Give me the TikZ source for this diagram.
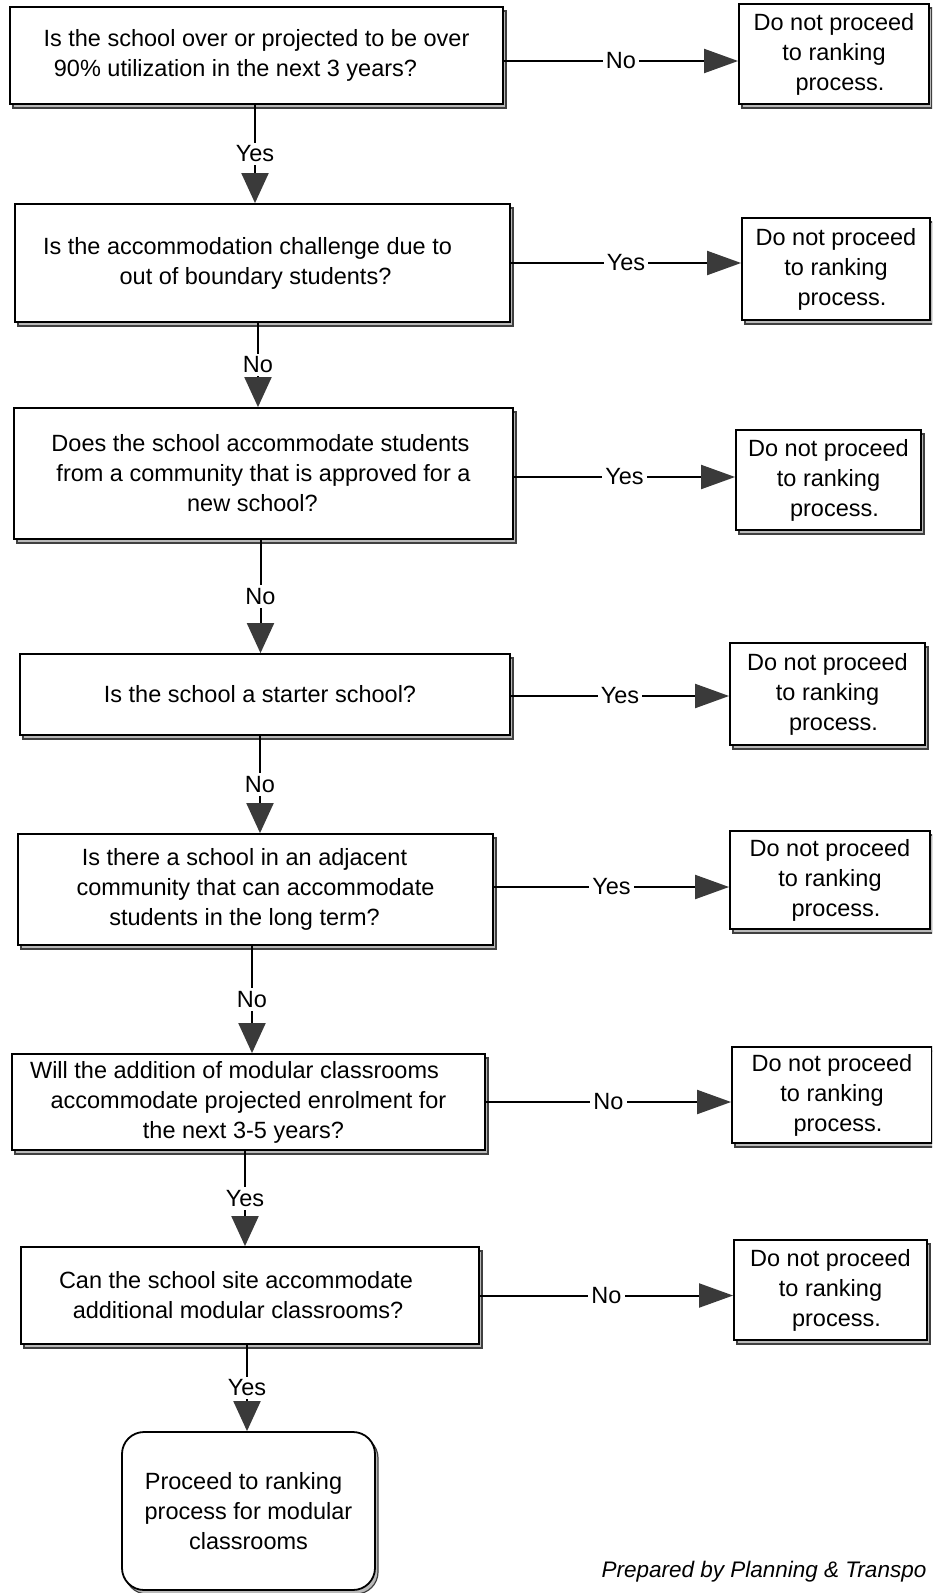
\documentclass[tikz,border=0pt]{standalone}
\usepackage{fontspec}
\setmainfont{Liberation Sans}
\usetikzlibrary{arrows.meta,shadows}
\definecolor{tipgray}{HTML}{3A3A3A}
\newcommand\sh[1]{\hspace*{#1pt}}
\begin{document}
\begin{tikzpicture}[x=1pt,y=-1pt,
  every node/.style={font=\fontsize{23.5}{30}\selectfont},
  box/.style={draw=black, line width=1.8pt, fill=white, inner sep=0pt, align=center,
    drop shadow={shadow xshift=3pt, shadow yshift=-4pt, opacity=1, fill=gray!55, draw=black!75, line width=1.2pt}},
  hconn/.style={line width=2pt, -{Triangle[length=34pt,width=24pt,color=tipgray]}},
  vconn/.style={line width=2pt, -{Triangle[length=30pt,width=27pt,color=tipgray]}},
  lbl/.style={fill=white, inner sep=3pt}
]
\useasboundingbox (0,0) rectangle (932,1593);
\clip (0,0) rectangle (932,1593);

% question boxes
\node[box, minimum width=493pt, minimum height=97pt] (Q1) at (256.5,55.5)
  {Is the school over or projected to be over\\ 90\% utilization in the next 3 years?\sh{42}};
\node[box, minimum width=495pt, minimum height=118pt] (Q2) at (262.5,263)
  {Is the accommodation challenge due to\sh{30}\\ out of boundary students?\sh{14}};
\node[box, minimum width=499pt, minimum height=131pt] (Q3) at (263.5,473.5)
  {Does the school accommodate students\sh{6}\\ from a community that is approved for a\sh{30}\\ new school?\sh{22}};
\node[box, minimum width=490pt, minimum height=81pt] (Q4) at (265,694.5)
  {Is the school a starter school?\sh{10}};
\node[box, minimum width=475pt, minimum height=111pt] (Q5) at (255.5,889.5)
  {Is there a school in an adjacent\sh{22}\\ community that can accommodate\sh{26}\\ students in the long term?\sh{22}};
\node[box, minimum width=473pt, minimum height=96pt] (Q6) at (248.5,1102)
  {Will the addition of modular classrooms\sh{28}\\ accommodate projected enrolment for\sh{32}\\ the next 3-5 years?\sh{10}};
\node[box, minimum width=458pt, minimum height=97pt] (Q7) at (250,1295.5)
  {Can the school site accommodate\sh{28}\\ additional modular classrooms?\sh{24}};
\node[box, rounded corners=22pt, minimum width=253pt, minimum height=158pt] (F) at (248.5,1511)
  {Proceed to ranking\sh{10}\\ process for modular\sh{8}\\ classrooms};

% result boxes
\node[box, minimum width=190pt, minimum height=100pt] (R1) at (834,54)
  {Do not proceed\\ to ranking\\ \sh{12}process.};
\node[box, minimum width=188pt, minimum height=102pt] (R2) at (836,269)
  {Do not proceed\\ to ranking\\ \sh{12}process.};
\node[box, minimum width=185pt, minimum height=100pt] (R3) at (828.5,480)
  {Do not proceed\\ to ranking\\ \sh{12}process.};
\node[box, minimum width=195pt, minimum height=102pt] (R4) at (827.5,694)
  {Do not proceed\\ to ranking\\ \sh{12}process.};
\node[box, minimum width=200pt, minimum height=98pt] (R5) at (830,880)
  {Do not proceed\\ to ranking\\ \sh{12}process.};
\node[box, minimum width=200pt, minimum height=96pt] (R6) at (832,1095)
  {Do not proceed\\ to ranking\\ \sh{12}process.};
\node[box, minimum width=193pt, minimum height=100pt] (R7) at (830.5,1290)
  {Do not proceed\\ to ranking\\ \sh{12}process.};

% horizontal connectors
\coordinate (h1) at ([yshift=-5.5pt]Q1.east);
\draw[hconn] (h1) -- node[lbl]{No} (h1 -| R1.west);
\draw[hconn] (Q2.east) -- node[lbl]{Yes} (Q2.east -| R2.west);
\coordinate (h3) at ([yshift=-3.5pt]Q3.east);
\draw[hconn] (h3) -- node[lbl]{Yes} (h3 -| R3.west);
\coordinate (h4) at ([yshift=-1.5pt]Q4.east);
\draw[hconn] (h4) -- node[lbl]{Yes} (h4 -| R4.west);
\coordinate (h5) at ([yshift=2.5pt]Q5.east);
\draw[hconn] (h5) -- node[lbl]{Yes} (h5 -| R5.west);
\draw[hconn] (Q6.east) -- node[lbl]{No} (Q6.east -| R6.west);
\draw[hconn] (Q7.east) -- node[lbl]{No} (Q7.east -| R7.west);

% vertical connectors
\coordinate (v1) at ([xshift=-1.5pt]Q1.south);
\draw[vconn] (v1) -- node[lbl]{Yes} (v1 |- Q2.north);
\coordinate (v2) at ([xshift=-4.5pt]Q2.south);
\draw[vconn] (v2) -- node[lbl]{No} (v2 |- Q3.north);
\coordinate (v3) at ([xshift=-3pt]Q3.south);
\draw[vconn] (v3) -- node[lbl]{No} (v3 |- Q4.north);
\coordinate (v4) at ([xshift=-5pt]Q4.south);
\draw[vconn] (v4) -- node[lbl]{No} (v4 |- Q5.north);
\coordinate (v5) at ([xshift=-3.5pt]Q5.south);
\draw[vconn] (v5) -- node[lbl]{No} (v5 |- Q6.north);
\coordinate (v6) at ([xshift=-3.5pt]Q6.south);
\draw[vconn] (v6) -- node[lbl]{Yes} (v6 |- Q7.north);
\coordinate (v7) at ([xshift=-3pt]Q7.south);
\draw[vconn] (v7) -- node[lbl]{Yes} (v7 |- F.north);

% footer
\node[anchor=west, font=\itshape\fontsize{22.5}{27}\selectfont] (foot) at (598,1572)
  {Prepared by Planning \& Transpo};
\end{tikzpicture}
\end{document}
